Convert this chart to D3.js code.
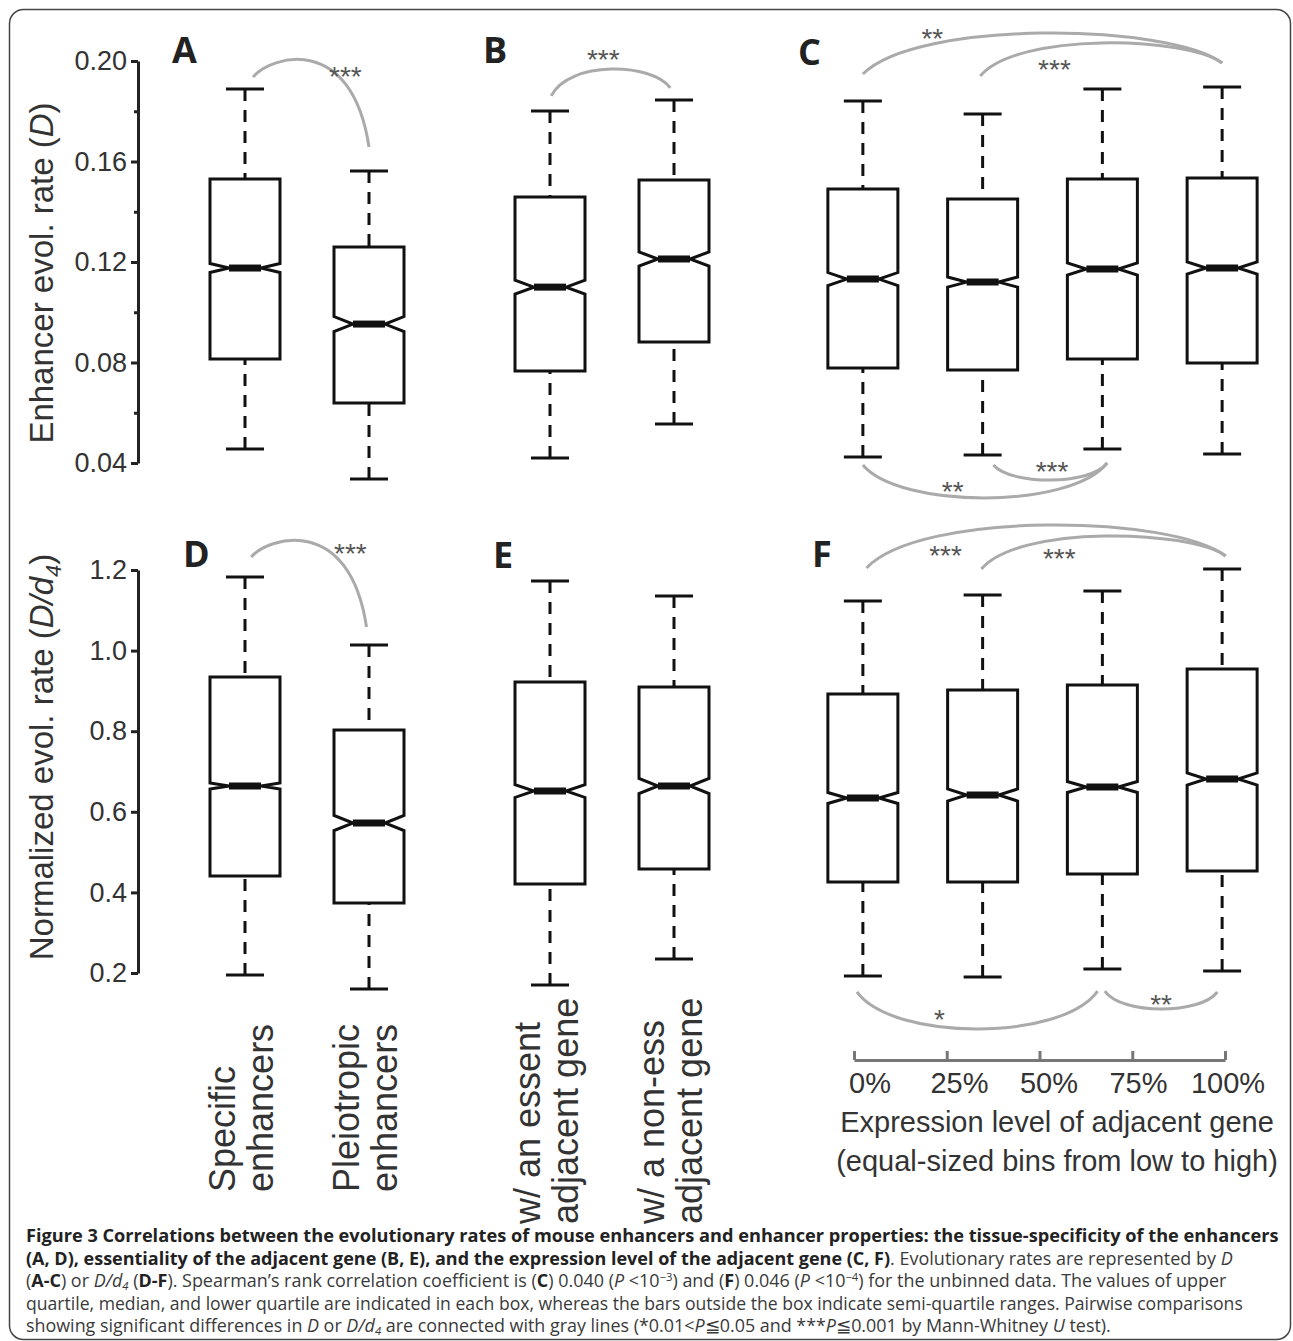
<!DOCTYPE html>
<html><head><meta charset="utf-8">
<script src="https://cdn.jsdelivr.net/npm/d3@7/dist/d3.min.js"></script>
<style>body{margin:0;background:#fff}svg{display:block}</style>
</head><body>
<svg id="c" width="1293" height="1341"></svg>
<script>
// ---------------- DATA ----------------
const topTicks = [0.04, 0.08, 0.12, 0.16, 0.20];
const topMinorTicks = [0.06, 0.10, 0.14, 0.18];
const botTicks = [0.2, 0.4, 0.6, 0.8, 1.0, 1.2];

const catsAD = ["Specific enhancers", "Pleiotropic enhancers"];
const catsBE = ["w/ an essent adjacent gene", "w/ a non-ess adjacent gene"];
const catsCF = ["0-25%", "25-50%", "50-75%", "75-100%"];
const labelLinesAD = [["Specific", "enhancers"], ["Pleiotropic", "enhancers"]];
const labelLinesBE = [["w/ an essent", "adjacent gene"], ["w/ a non-ess", "adjacent gene"]];
const expTicks = [0, 25, 50, 75, 100];
const expTickLabels = ["0%", "25%", "50%", "75%", "100%"];

// Panel A (D)
const hiA = [0.1889, 0.1562], q3A = [0.1530, 0.1260], medA = [0.1176, 0.0953], q1A = [0.0814, 0.0639], loA = [0.0456, 0.0336], notchA = [0.0018, 0.0030];
// Panel B (D)
const hiB = [0.1801, 0.1845], q3B = [0.1459, 0.1526], medB = [0.1100, 0.1212], q1B = [0.0766, 0.0882], loB = [0.0420, 0.0555], notchB = [0.0028, 0.0028];
// Panel C (D)
const hiC = [0.1841, 0.1789, 0.1889, 0.1897], q3C = [0.1491, 0.1451, 0.1530, 0.1534], medC = [0.1132, 0.1120, 0.1172, 0.1176], q1C = [0.0778, 0.0770, 0.0814, 0.0798], loC = [0.0424, 0.0432, 0.0456, 0.0436], notchC = [0.0026, 0.0020, 0.0024, 0.0024];
// Panel D (D/d4)
const hiD = [1.1826, 1.0139], q3D = [0.9345, 0.8030], medD = [0.6640, 0.5722], q1D = [0.4407, 0.3737], loD = [0.1950, 0.1600], notchD = [0.0075, 0.0186];
// Panel E (D/d4)
const hiE = [1.1727, 1.1355], q3E = [0.9220, 0.9097], medE = [0.6516, 0.6640], q1E = [0.4208, 0.4580], loE = [0.1702, 0.2347], notchE = [0.0160, 0.0186];
// Panel F (D/d4)
const hiF = [1.1230, 1.1380, 1.1479, 1.2025], q3F = [0.8923, 0.9022, 0.9146, 0.9543], medF = [0.6342, 0.6417, 0.6615, 0.6814], q1F = [0.4258, 0.4258, 0.4457, 0.4531], loF = [0.1926, 0.1900, 0.2100, 0.2050], notchF = [0.0136, 0.0150, 0.0136, 0.0150];

// Significance connectors: [fromIndex, fromValue, toIndex, toValue, apexValue, label, labelIndex, labelValue]
const sigA = [[0.065, 0.1936, 1.0, 0.1658, 0.2000, "***", 0.81, 0.1964]];
const sigB = [[0.01, 0.1861, 0.97, 0.1893, 0.1968, "***", 0.43, 0.2032]];
const sigC = [[0.0, 0.1948, 3.0, 0.1992, 0.2111, "**", 0.58, 0.2115],
              [0.98, 0.1940, 3.0, 0.1992, 0.2072, "***", 1.60, 0.1992],
              [0.0, 0.0392, 2.04, 0.0400, 0.0261, "**", 0.75, 0.0312],
              [1.09, 0.0392, 2.04, 0.0400, 0.0332, "***", 1.58, 0.0392]];
const sigD = [[0.05, 1.2323, 0.98, 1.0586, 1.2695, "***", 0.85, 1.2571]];
const sigF = [[0.03, 1.2050, 3.03, 1.2347, 1.3117, "***", 0.69, 1.2521],
              [0.99, 1.2025, 3.03, 1.2347, 1.2844, "***", 1.64, 1.2447],
              [-0.05, 0.1529, 1.96, 0.1553, 0.0610, "*", 0.64, 0.1007],
              [2.02, 0.1553, 2.96, 0.1529, 0.1107, "**", 2.49, 0.1380]];

const caption = [
  [["Figure 3 Correlations between the evolutionary rates of mouse enhancers and enhancer properties: the tissue-specificity of the enhancers", "b"]],
  [["(A, D), essentiality of the adjacent gene (B, E), and the expression level of the adjacent gene (C, F)", "b"], [". Evolutionary rates are represented by ", ""], ["D", "i"]],
  [["(", ""], ["A-C", "b"], [") or ", ""], ["D/d", "i"], ["4", "sub"], [" (", ""], ["D-F", "b"], ["). Spearman\u2019s rank correlation coefficient is (", ""], ["C", "b"], [") 0.040 (", ""], ["P", "i"], [" <10", ""], ["\u22123", "sup"], [") and (", ""], ["F", "b"], [") 0.046 (", ""], ["P", "i"], [" <10", ""], ["\u22124", "sup"], [") for the unbinned data. The values of upper", ""]],
  [["quartile, median, and lower quartile are indicated in each box, whereas the bars outside the box indicate semi-quartile ranges. Pairwise comparisons", ""]],
  [["showing significant differences in ", ""], ["D", "i"], [" or ", ""], ["D/d", "i"], ["4", "sub"], [" are connected with gray lines (*0.01<", ""], ["P", "i"], ["\u22660.05 and ***", ""], ["P", "i"], ["\u22660.001 by Mann-Whitney ", ""], ["U", "i"], [" test).", ""]]
];
const captionWidths = [1254, 1207, 1201, 1217, 1086];

// ---------------- SETUP ----------------
const svg = d3.select("#c");
const FONT = "'Liberation Sans', Arial, sans-serif";
const INK = "#111";
const TXT = "#333";

svg.append("rect").attr("x", 9.5).attr("y", 9.5).attr("width", 1281).attr("height", 1330)
  .attr("rx", 14).attr("fill", "none").attr("stroke", "#444").attr("stroke-width", 1.5);

const yTop = d3.scaleLinear().domain([0.04, 0.20]).range([463, 61]);
const yBot = d3.scaleLinear().domain([0.2, 1.2]).range([973, 570]);
const xAD = d3.scalePoint().domain(catsAD).range([183, 431]).padding(0.5);
const xBE = d3.scalePoint().domain(catsBE).range([488, 736]).padding(0.5);
const xCF = d3.scalePoint().domain(catsCF).range([803, 1282]).padding(0.5);
const xAt = (sc, f) => sc(sc.domain()[0]) + f * sc.step();

// ---------------- AXES ----------------
function styleAxis(g, w, col) {
  g.selectAll("path.domain").attr("stroke", col).attr("stroke-width", w);
  g.selectAll(".tick line").attr("stroke", col).attr("stroke-width", w);
  g.selectAll(".tick text").attr("fill", TXT).attr("font-family", FONT);
}
const axTop = svg.append("g").attr("transform", "translate(138,0)")
  .call(d3.axisLeft(yTop).tickValues(topTicks).tickSize(7).tickSizeOuter(0).tickPadding(4).tickFormat(d3.format(".2f")));
styleAxis(axTop, 3, "#222");
axTop.selectAll(".tick text").attr("font-size", 27);
const axTopMinor = svg.append("g").attr("transform", "translate(138,0)")
  .call(d3.axisLeft(yTop).tickValues(topMinorTicks).tickSize(4).tickFormat(""));
styleAxis(axTopMinor, 3, "#222");
axTopMinor.select("path.domain").remove();

const axBot = svg.append("g").attr("transform", "translate(138,0)")
  .call(d3.axisLeft(yBot).tickValues(botTicks).tickSize(7).tickSizeOuter(0).tickPadding(4).tickFormat(d3.format(".1f")));
styleAxis(axBot, 3, "#222");
axBot.selectAll(".tick text").attr("font-size", 27);

// y titles
const t1 = svg.append("text").attr("transform", "translate(53,273) rotate(-90)")
  .attr("text-anchor", "middle").attr("font-family", FONT).attr("font-size", 33).attr("fill", TXT);
t1.append("tspan").text("Enhancer evol. rate (");
t1.append("tspan").attr("font-style", "italic").text("D");
t1.append("tspan").text(")");
const t2 = svg.append("text").attr("transform", "translate(53,757) rotate(-90)")
  .attr("text-anchor", "middle").attr("font-family", FONT).attr("font-size", 33).attr("fill", TXT);
t2.append("tspan").text("Normalized evol. rate (");
t2.append("tspan").attr("font-style", "italic").text("D/d");
t2.append("tspan").attr("font-style", "italic").attr("font-size", 22).attr("dy", 8).text("4");
t2.append("tspan").attr("dy", -8).text(")");

// ---------------- BOXES ----------------
const BH = 35, MH = 16, CH = 19;
function drawBoxes(x, y, hi, q3, med, q1, lo, notch) {
  const g = svg.append("g");
  x.domain().forEach((cat, i) => {
    const c = x(cat);
    const Y = v => y(v);
    g.append("line").attr("x1", c).attr("x2", c).attr("y1", Y(hi[i])).attr("y2", Y(q3[i]))
      .attr("stroke", INK).attr("stroke-width", 3).attr("stroke-dasharray", "12,9");
    g.append("line").attr("x1", c).attr("x2", c).attr("y1", Y(lo[i])).attr("y2", Y(q1[i]))
      .attr("stroke", INK).attr("stroke-width", 3).attr("stroke-dasharray", "12,9");
    g.append("line").attr("x1", c - CH).attr("x2", c + CH).attr("y1", Y(hi[i])).attr("y2", Y(hi[i]))
      .attr("stroke", INK).attr("stroke-width", 3);
    g.append("line").attr("x1", c - CH).attr("x2", c + CH).attr("y1", Y(lo[i])).attr("y2", Y(lo[i]))
      .attr("stroke", INK).attr("stroke-width", 3);
    const nh = Y(med[i] + notch[i]), nl = Y(med[i] - notch[i]), m = Y(med[i]);
    const pts = [[c - BH, Y(q3[i])], [c - BH, nh], [c - MH, m], [c - BH, nl], [c - BH, Y(q1[i])],
                 [c + BH, Y(q1[i])], [c + BH, nl], [c + MH, m], [c + BH, nh], [c + BH, Y(q3[i])]];
    g.append("path").attr("d", d3.line()(pts) + "Z").attr("fill", "#fff")
      .attr("stroke", INK).attr("stroke-width", 3).attr("stroke-linejoin", "miter");
    g.append("line").attr("x1", c - MH).attr("x2", c + MH).attr("y1", m).attr("y2", m)
      .attr("stroke", INK).attr("stroke-width", 7);
  });
}
drawBoxes(xAD, yTop, hiA, q3A, medA, q1A, loA, notchA);
drawBoxes(xBE, yTop, hiB, q3B, medB, q1B, loB, notchB);
drawBoxes(xCF, yTop, hiC, q3C, medC, q1C, loC, notchC);
drawBoxes(xAD, yBot, hiD, q3D, medD, q1D, loD, notchD);
drawBoxes(xBE, yBot, hiE, q3E, medE, q1E, loE, notchE);
drawBoxes(xCF, yBot, hiF, q3F, medF, q1F, loF, notchF);

// ---------------- SIGNIFICANCE ARCS ----------------
function drawSig(x, y, list) {
  const g = svg.append("g");
  list.forEach(s => {
    const [f0, v0, f1, v1, va, lab, lf, lv] = s;
    const x0 = xAt(x, f0), y0 = y(v0), x1 = xAt(x, f1), y1 = y(v1), ya = y(va);
    const dx = x1 - x0;
    const p = d3.path();
    p.moveTo(x0, y0);
    p.bezierCurveTo(x0 + 0.15 * dx, y0 + (ya - y0) / 0.75, x1 - 0.15 * dx, y1 + (ya - y1) / 0.75, x1, y1);
    g.append("path").attr("d", p.toString()).attr("fill", "none").attr("stroke", "#aaa").attr("stroke-width", 3);
    g.append("text").attr("x", xAt(x, lf)).attr("y", y(lv) + 16).attr("text-anchor", "middle")
      .attr("font-family", FONT).attr("font-size", 28).attr("fill", "#555").text(lab);
  });
}
drawSig(xAD, yTop, sigA);
drawSig(xBE, yTop, sigB);
drawSig(xCF, yTop, sigC);
drawSig(xAD, yBot, sigD);
drawSig(xCF, yBot, sigF);

// ---------------- PANEL LETTERS ----------------
const letters = [["A", 172, 63], ["B", 483, 63], ["C", 798, 65], ["D", 183, 567], ["E", 493, 568], ["F", 812, 567]];
letters.forEach(([t, lx, ly]) => {
  svg.append("text").attr("x", lx).attr("y", ly).attr("font-family", "'Open Sans', sans-serif")
    .attr("font-weight", "bold").attr("font-size", 36).attr("fill", "#222").text(t);
});

// ---------------- CATEGORY LABELS ----------------
function catLabels(x, lines, y0) {
  x.domain().forEach((cat, i) => {
    const c = x(cat);
    lines[i].forEach((ln, k) => {
      svg.append("text").attr("transform", `translate(${c + (k === 0 ? -10 : 28)},${y0}) rotate(-90)`)
        .attr("font-family", FONT).attr("font-size", 36).attr("fill", TXT).text(ln);
    });
  });
}
catLabels(xAD, labelLinesAD, 1192);
catLabels(xBE, labelLinesBE, 1224);

// ---------------- EXPRESSION AXIS ----------------
const xExp = d3.scaleLinear().domain([0, 100]).range([854, 1225]);
const xExpLab = d3.scaleLinear().domain([0, 100]).range([870, 1228]);
const axExp = svg.append("g").attr("transform", "translate(0,1060)")
  .call(d3.axisTop(xExp).tickValues(expTicks).tickSize(9).tickSizeOuter(0).tickFormat(""));
styleAxis(axExp, 3, "#777");
svg.append("g").selectAll("text").data(expTicks).join("text")
  .attr("x", d => xExpLab(d)).attr("y", 1093).attr("text-anchor", "middle")
  .attr("font-family", FONT).attr("font-size", 29).attr("fill", TXT)
  .text((d, i) => expTickLabels[i]);
svg.append("text").attr("x", 1057).attr("y", 1132).attr("text-anchor", "middle")
  .attr("font-family", FONT).attr("font-size", 29).attr("fill", TXT).text("Expression level of adjacent gene");
svg.append("text").attr("x", 1057).attr("y", 1171).attr("text-anchor", "middle")
  .attr("font-family", FONT).attr("font-size", 29).attr("fill", TXT).text("(equal-sized bins from low to high)");

// ---------------- CAPTION ----------------
const capBase = [1242, 1264.5, 1287, 1309.5, 1332];
caption.forEach((segs, li) => {
  const t = svg.append("text").attr("x", 0).attr("y", 0)
    .attr("font-family", "'Open Sans', sans-serif").attr("font-size", 17.5).attr("fill", "#3a3a3a");
  let shift = 0;
  segs.forEach(([s, st]) => {
    const ts = t.append("tspan").text(s);
    let target = 0;
    if (st === "b") ts.attr("font-weight", "bold").attr("fill", "#222");
    if (st === "i") ts.attr("font-style", "italic");
    if (st === "sub") { ts.attr("font-size", 11).attr("font-style", "italic"); target = 3; }
    if (st === "sup") { ts.attr("font-size", 11); target = -6; }
    if (target !== shift) { ts.attr("dy", target - shift); shift = target; }
  });
  const len = t.node().getComputedTextLength();
  const sx = captionWidths[li] / len;
  t.attr("transform", `translate(26,${capBase[li]}) scale(${sx},1)`);
});
</script>
</body></html>
